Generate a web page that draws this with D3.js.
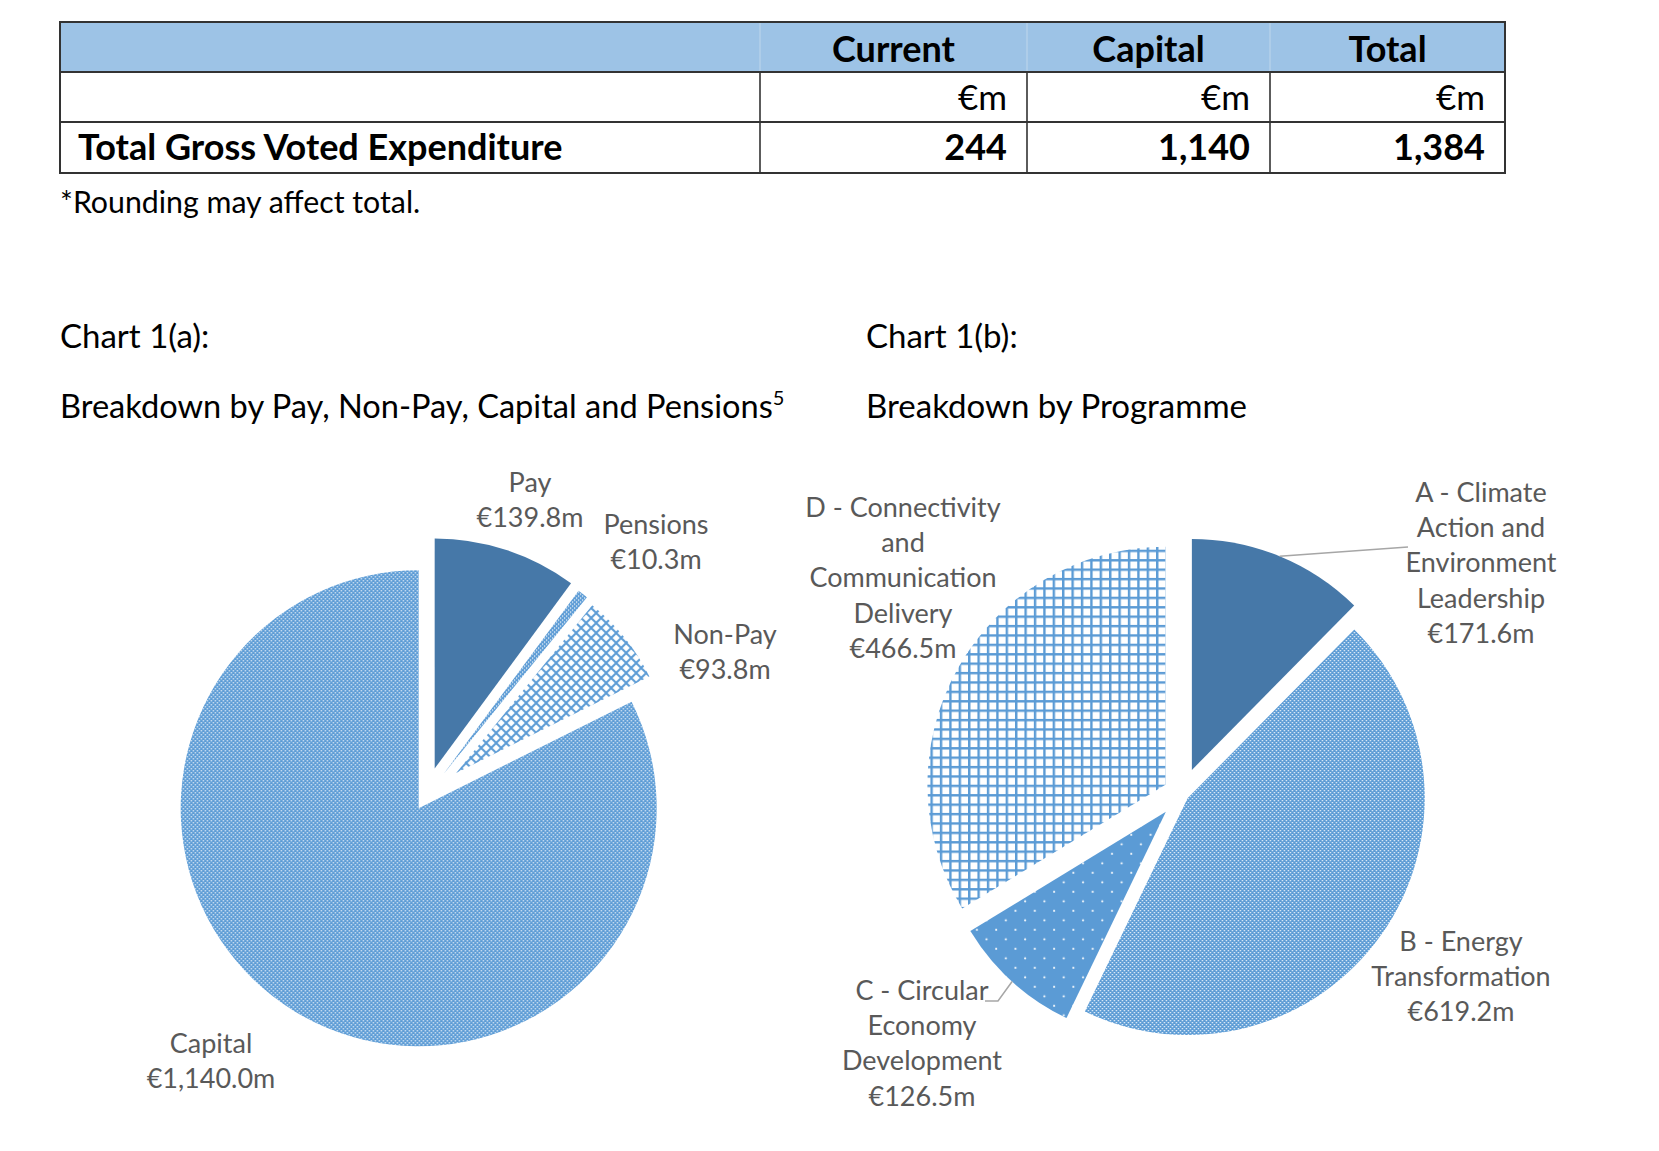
<!DOCTYPE html>
<html>
<head>
<meta charset="utf-8">
<title>Gross Voted Expenditure</title>
<script src="https://d3js.org/d3.v7.min.js"></script>
<style>
  body { margin: 0; background: #fff; }
  text { font-family: Lato, "Open Sans", sans-serif; }
</style>
</head>
<body>
<script>
// ---- table data ----
var tableHeads = ["Current", "Capital", "Total"];
var tableUnits = ["€m", "€m", "€m"];
var tableRowName = "Total Gross Voted Expenditure";
var tableValues = [244, 1140, 1384];
var tableNote = "*Rounding may affect total.";

// ---- chart 1(a) ----
var costNames = [["Pay"], ["Pensions"], ["Non-Pay"], ["Capital"]];
var costValues = [139.8, 10.3, 93.8, 1140.0];

// ---- chart 1(b) ----
var progNames = [
  ["A - Climate", "Action and", "Environment", "Leadership"],
  ["B - Energy", "Transformation"],
  ["C - Circular", "Economy", "Development"],
  ["D - Connectivity", "and", "Communication", "Delivery"]
];
var progValues = [171.6, 619.2, 126.5, 466.5];

var W = 1659, H = 1151;
var blue = "#5b9bd5", dark = "#4678a8", labCol = "#595959";
var money = function(v) { return "€" + d3.format(",.1f")(v) + "m"; };

var svg = d3.select("body").append("svg").attr("width", W).attr("height", H);
svg.append("rect").attr("width", W).attr("height", H).attr("fill", "#fff");

// patterns
var defs = svg.append("defs");
var p = defs.append("pattern").attr("id", "pCheck").attr("patternUnits", "userSpaceOnUse")
  .attr("width", 4).attr("height", 4);
p.append("rect").attr("width", 4).attr("height", 4).attr("fill", blue);
p.append("rect").attr("width", 1.25).attr("height", 1.25).attr("fill", "#fff");
p.append("rect").attr("x", 2).attr("y", 2).attr("width", 1.25).attr("height", 1.25).attr("fill", "#fff");

p = defs.append("pattern").attr("id", "pDiag").attr("patternUnits", "userSpaceOnUse")
  .attr("width", 10).attr("height", 10);
p.append("rect").attr("width", 10).attr("height", 10).attr("fill", "#fff");
p.append("path").attr("d", "M-2,-2L12,12M12,-2L-2,12").attr("stroke", blue).attr("stroke-width", 2);

p = defs.append("pattern").attr("id", "pGrid").attr("patternUnits", "userSpaceOnUse")
  .attr("width", 9.4).attr("height", 9.4);
p.append("rect").attr("width", 9.4).attr("height", 9.4).attr("fill", "#fff");
p.append("rect").attr("width", 9.4).attr("height", 2.4).attr("fill", blue);
p.append("rect").attr("width", 2.4).attr("height", 9.4).attr("fill", blue);

p = defs.append("pattern").attr("id", "pDots").attr("patternUnits", "userSpaceOnUse")
  .attr("width", 19.3).attr("height", 19);
p.append("rect").attr("width", 19.3).attr("height", 19).attr("fill", blue);
p.append("circle").attr("cx", 4).attr("cy", 4).attr("r", 1.1).attr("fill", "#fff");
p.append("circle").attr("cx", 13.65).attr("cy", 13.5).attr("r", 1.1).attr("fill", "#fff");

// ---- table ----
var colX = [60, 760, 1027, 1270, 1505];
var rowY = [22, 72, 122, 173];
var tg = svg.append("g");
tg.append("rect").attr("x", colX[0]).attr("y", rowY[0])
  .attr("width", colX[4] - colX[0]).attr("height", rowY[1] - rowY[0]).attr("fill", "#9dc3e6");
// header dividers (faint)
tg.selectAll(".hd").data(colX.slice(1, 4)).enter().append("line")
  .attr("x1", d => d).attr("x2", d => d).attr("y1", rowY[0]).attr("y2", rowY[1])
  .attr("stroke", "#b4d0ea").attr("stroke-width", 1.5);
tg.selectAll(".vd").data(colX.slice(1, 4)).enter().append("line")
  .attr("x1", d => d).attr("x2", d => d).attr("y1", rowY[1]).attr("y2", rowY[3])
  .attr("stroke", "#333").attr("stroke-width", 1.6);
tg.selectAll(".hl").data(rowY.slice(1, 3)).enter().append("line")
  .attr("x1", colX[0]).attr("x2", colX[4]).attr("y1", d => d).attr("y2", d => d)
  .attr("stroke", "#333").attr("stroke-width", 2);
tg.append("rect").attr("x", colX[0]).attr("y", rowY[0])
  .attr("width", colX[4] - colX[0]).attr("height", rowY[3] - rowY[0])
  .attr("fill", "none").attr("stroke", "#333").attr("stroke-width", 2);

tg.selectAll(".th").data(tableHeads).enter().append("text")
  .attr("x", (d, i) => (colX[i + 1] + colX[i + 2]) / 2).attr("y", 62)
  .attr("text-anchor", "middle").attr("font-size", 36).attr("font-weight", "bold")
  .attr("fill", "#000").text(d => d);
tg.selectAll(".tu").data(tableUnits).enter().append("text")
  .attr("x", (d, i) => colX[i + 2] - 20).attr("y", 110)
  .attr("text-anchor", "end").attr("font-size", 35).attr("fill", "#000").text(d => d);
tg.append("text").attr("x", 78).attr("y", 160).attr("font-size", 36).attr("font-weight", "bold")
  .text(tableRowName);
tg.selectAll(".tv").data(tableValues).enter().append("text")
  .attr("x", (d, i) => colX[i + 2] - 20).attr("y", 160)
  .attr("text-anchor", "end").attr("font-size", 36).attr("font-weight", "bold")
  .text(d => d3.format(",")(d));

svg.append("text").attr("x", 60).attr("y", 213).attr("font-size", 30.3).text(tableNote);

// headings
svg.append("text").attr("x", 60).attr("y", 348).attr("font-size", 33).text("Chart 1(a):");
var h = svg.append("text").attr("x", 60).attr("y", 418).attr("font-size", 32.6)
  .text("Breakdown by Pay, Non-Pay, Capital and Pensions");
h.append("tspan").attr("font-size", 20).attr("dy", -13).text("5");
svg.append("text").attr("x", 866).attr("y", 348).attr("font-size", 33).text("Chart 1(b):");
svg.append("text").attr("x", 866).attr("y", 418).attr("font-size", 33).text("Breakdown by Programme");

// ---- pies ----
// each slice has its own explosion distance and radius, as in the original
function drawPie(cfg) {
  var arcs = d3.pie().sort(null).value(d => d)(cfg.values);
  var arc = d3.arc().innerRadius(0).outerRadius(d => cfg.r[d.index]);
  var g = svg.append("g").attr("transform", "translate(" + cfg.cx + "," + cfg.cy + ")");
  var off = function(d, k) {
    var m = (d.startAngle + d.endAngle) / 2;
    return [k * Math.sin(m), -k * Math.cos(m)];
  };
  g.selectAll("path").data(arcs).enter().append("path")
    .attr("d", arc)
    .attr("transform", d => "translate(" + off(d, cfg.explode[d.index]) + ")")
    .attr("fill", (d, i) => cfg.fills[i]);

  // leader lines from the outer edge of the slice to its label
  arcs.forEach(function(d, i) {
    if (!cfg.leaders[i]) return;
    var e = off(d, cfg.explode[i]), o = off(d, cfg.r[i]);
    var pts = [[e[0] + o[0], e[1] + o[1]]].concat(cfg.leaders[i].map(q => [q[0] - cfg.cx, q[1] - cfg.cy]));
    g.append("path").attr("d", d3.line()(pts)).attr("fill", "none")
      .attr("stroke", "#a6a6a6").attr("stroke-width", 1.5);
  });

  arcs.forEach(function(d, i) {
    var lines = cfg.names[i].concat([money(cfg.values[i])]);
    var t = svg.append("text").attr("text-anchor", "middle").attr("font-size", 27).attr("fill", labCol);
    t.selectAll("tspan").data(lines).enter().append("tspan")
      .attr("x", cfg.labels[i][0]).attr("y", (l, k) => cfg.labels[i][1] + k * 35.2)
      .text(l => l);
  });
}

drawPie({
  values: costValues, names: costNames,
  cx: 425, cy: 798,
  r: [230, 227, 216, 238], explode: [31, 31, 40, 12],
  fills: [dark, "url(#pCheck)", "url(#pDiag)", "url(#pCheck)"],
  labels: [[530, 492], [656, 534], [725, 644], [211, 1053]],
  leaders: {}
});

drawPie({
  values: progValues, names: progNames,
  cx: 1182, cy: 794,
  r: [231, 237, 229, 238], explode: [26, 7, 24, 19],
  fills: [dark, "url(#pCheck)", "url(#pDots)", "url(#pGrid)"],
  labels: [[1481, 502], [1461, 951], [922, 1000], [903, 517]],
  leaders: {0: [[1408, 547]], 2: [[998, 1001], [985, 1001]]}
});
</script>
</body>
</html>
